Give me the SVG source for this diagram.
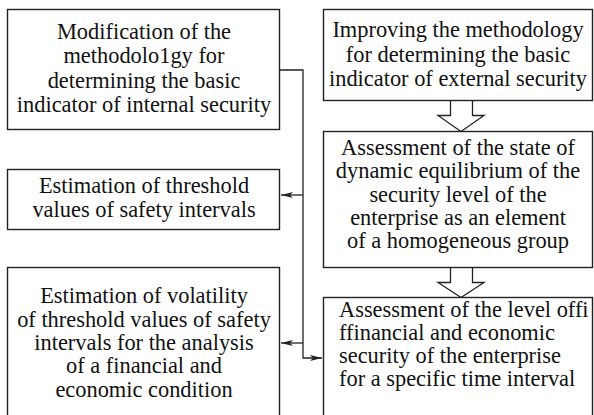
<svg xmlns="http://www.w3.org/2000/svg" width="594" height="415" viewBox="0 0 594 415">
<defs>
<style>
.box{fill:#fff;stroke:#222;stroke-width:1.4}
.ln{fill:none;stroke:#222;stroke-width:1.3}
.hollow{fill:#fff;stroke:#222;stroke-width:1.3;stroke-linejoin:miter}
</style>
<marker id="ah" viewBox="0 0 12 6" refX="12" refY="3" markerWidth="12" markerHeight="6" markerUnits="userSpaceOnUse" orient="auto">
<path d="M0,0 L12,3 L0,6 L3,3 Z" fill="#222"/>
</marker>
</defs>
<rect width="594" height="415" fill="#fff"/>
<g id="connectors">
<polyline class="ln" points="280,70 303,70 303,358 322,358" marker-end="url(#ah)"/>
<line class="ln" x1="303" y1="195" x2="281" y2="195" marker-end="url(#ah)"/>
<line class="ln" x1="303" y1="343" x2="281" y2="343" marker-end="url(#ah)"/>
<path class="hollow" d="M450.5,101 L450.5,115.5 L438,115.5 L461,131.5 L484,115.5 L472.5,115.5 L472.5,101"/>
<path class="hollow" d="M450.5,267.5 L450.5,282.5 L438,282.5 L461,297.5 L484,282.5 L472.5,282.5 L472.5,267.5"/>
</g>
<g font-family="Liberation Serif, serif" font-size="22.4" fill="#111">
<g id="n1" text-anchor="middle">
<rect class="box" x="7.5" y="9.5" width="272" height="120"/>
<text x="144" y="39">Modification of the</text>
<text x="144" y="63">methodolo1gy for</text>
<text x="144" y="88">determining  the basic</text>
<text x="144" y="112">indicator of internal security</text>
</g>
<g id="n2" text-anchor="middle">
<rect class="box" x="323.5" y="9.5" width="269" height="91"/>
<text x="458" y="37">Improving the methodology</text>
<text x="458" y="62">for determining the basic</text>
<text x="458" y="86">indicator of external security</text>
</g>
<g id="n3" text-anchor="middle">
<rect class="box" x="323.5" y="131.5" width="269" height="136"/>
<text x="458" y="155">Assessment of the state of</text>
<text x="458" y="178">dynamic equilibrium of the</text>
<text x="458" y="202">security level of the</text>
<text x="458" y="225">enterprise as an element</text>
<text x="458" y="248">of a homogeneous group</text>
</g>
<g id="n4">
<rect class="box" x="323.5" y="297.5" width="269" height="130"/>
<text x="339" y="317">Assessment of the level offi</text>
<text x="339" y="340">ffinancial and economic</text>
<text x="339" y="363">security of the enterprise</text>
<text x="339" y="386">for a specific time interval</text>
</g>
<g id="n5" text-anchor="middle">
<rect class="box" x="7.5" y="169.5" width="272" height="60"/>
<text x="144" y="193">Estimation of threshold</text>
<text x="144" y="217">values of safety intervals</text>
</g>
<g id="n6" text-anchor="middle">
<rect class="box" x="7.5" y="267.5" width="272" height="160"/>
<text x="144" y="303">Estimation of volatility</text>
<text x="144" y="327">of threshold values of safety</text>
<text x="144" y="350">intervals for the analysis</text>
<text x="144" y="373">of a financial and</text>
<text x="144" y="397">economic condition</text>
</g>
</g>
</svg>
